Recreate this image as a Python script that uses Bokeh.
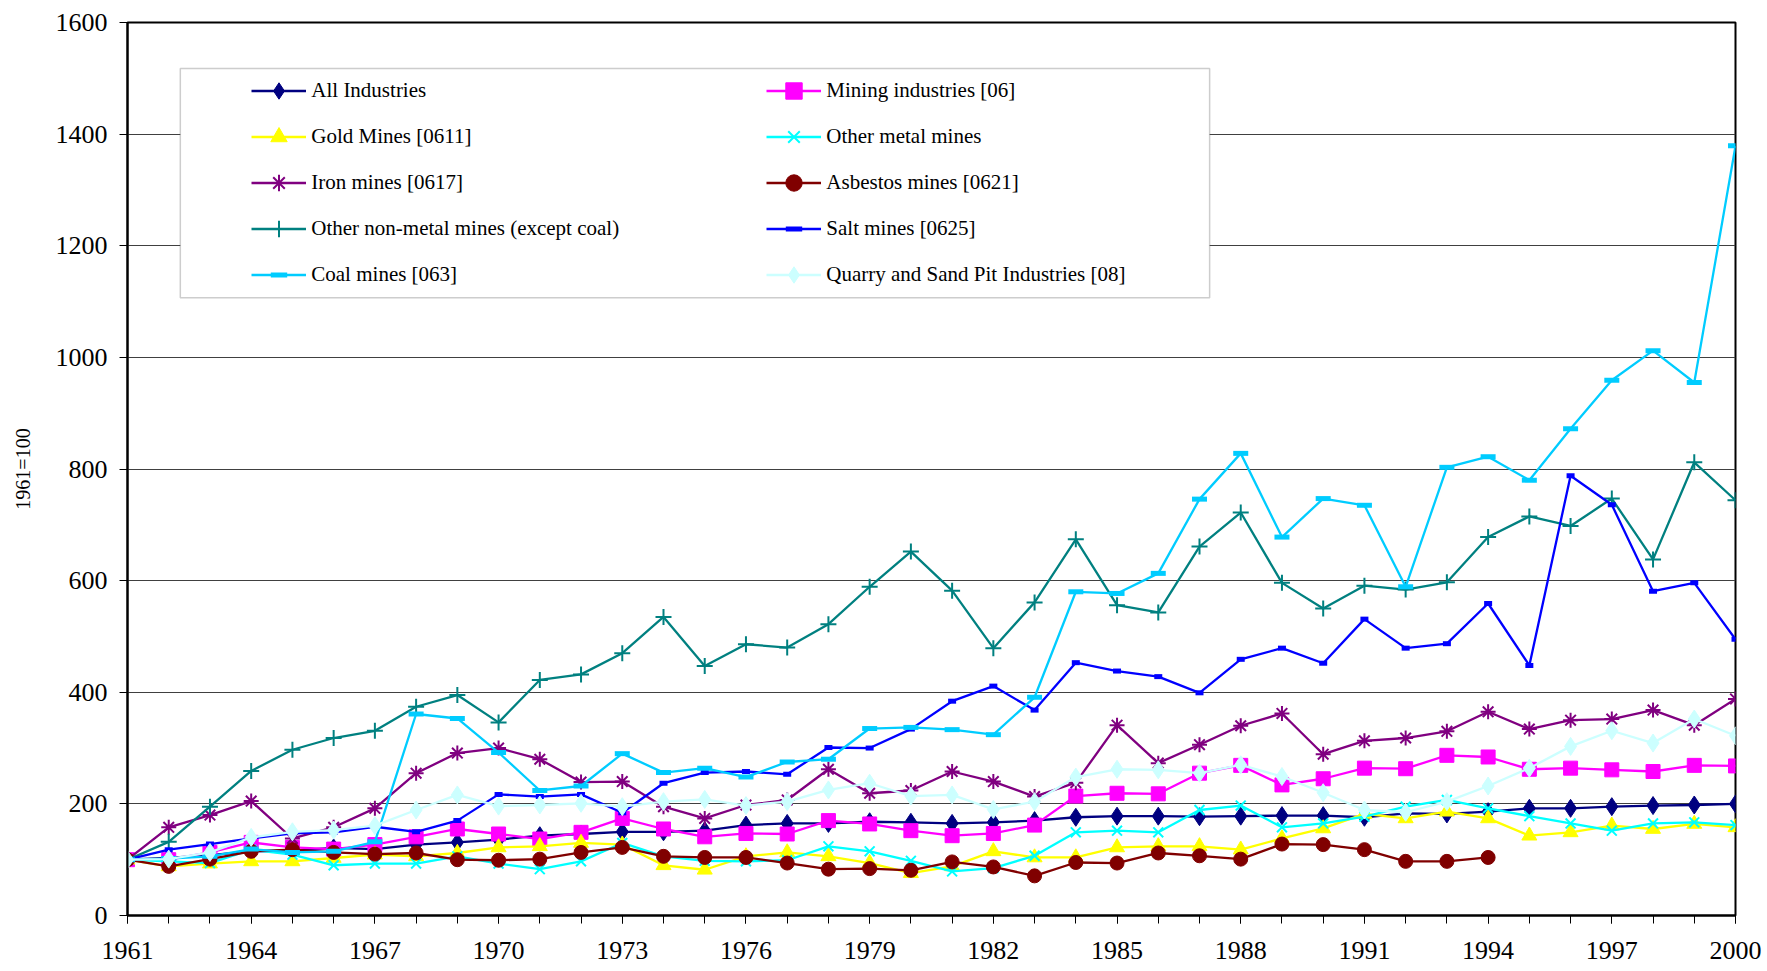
from bokeh.plotting import figure
from bokeh.models import FixedTicker, Legend, LegendItem, BoxAnnotation, Range1d, ColumnDataSource
from bokeh.embed import file_html
from bokeh.resources import INLINE

# ---------------- data ----------------
years = list(range(1961, 2001))
x_tick_years = list(range(1961, 2001, 3))
y_ticks = [0, 200, 400, 600, 800, 1000, 1200, 1400, 1600]

all_industries = [100, 103, 108, 115, 116, 121, 119, 127, 131, 136,
                  143, 146, 150, 150, 152, 162, 165, 165, 168, 167,
                  165, 167, 170, 176, 178, 178, 177, 178, 179, 179,
                  176, 183, 182, 186, 192, 192, 195, 197, 198, 200]
mining = [100, 100, 113, 131, 122, 119, 127, 141, 155, 146,
          137, 149, 174, 155, 141, 147, 146, 170, 164, 152,
          143, 147, 162, 214, 219, 218, 255, 269, 234, 245,
          264, 263, 287, 284, 262, 264, 261, 258, 269, 268]
gold = [100, 88, 93, 97, 97, 103, 109, 106, 112, 122,
        124, 130, 127, 90, 82, 106, 113, 106, 94, 76,
        88, 115, 104, 104, 122, 124, 124, 118, 138, 156,
        182, 174, 186, 174, 143, 149, 161, 155, 164, 158]
other_metal = [100, 97, 94, 118, 109, 90, 93, 93, 106, 93,
               83, 97, 130, 106, 98, 97, 99, 124, 115, 98,
               79, 85, 107, 149, 152, 149, 189, 197, 158, 165,
               177, 195, 207, 192, 178, 165, 152, 165, 167, 162]
iron = [100, 158, 180, 205, 138, 158, 192, 255, 291, 300,
        280, 239, 240, 195, 174, 198, 207, 262, 219, 224,
        258, 240, 213, 238, 341, 273, 306, 340, 362, 289,
        313, 318, 330, 365, 334, 350, 352, 368, 341, 388]
asbestos_years = list(range(1961, 1995))
asbestos = [100, 88, 101, 115, 118, 113, 110, 112, 100, 99,
            101, 113, 122, 106, 104, 104, 94, 83, 84, 81,
            96, 87, 71, 95, 94, 112, 107, 101, 128, 127,
            118, 97, 97, 104]
non_metal = [100, 132, 195, 259, 297, 318, 331, 374, 395, 346,
             422, 432, 470, 535, 447, 486, 480, 522, 589, 652,
             582, 479, 561, 674, 556, 543, 661, 722, 596, 550,
             591, 584, 597, 678, 715, 698, 747, 638, 812, 744]
salt = [100, 118, 128, 138, 147, 149, 159, 150, 170, 217,
        213, 217, 184, 237, 256, 258, 253, 301, 300, 334,
        384, 411, 368, 453, 438, 428, 399, 459, 479, 452,
        531, 479, 487, 559, 448, 788, 736, 581, 596, 495]
coal = [100, 102, 106, 119, 113, 115, 132, 361, 353, 292,
        224, 232, 290, 256, 264, 248, 275, 280, 335, 337,
        333, 324, 391, 580, 577, 613, 746, 828, 678, 747,
        735, 589, 803, 822, 780, 872, 959, 1012, 955, 1379]
quarry = [100, 101, 113, 140, 150, 153, 161, 189, 216, 196,
          198, 201, 195, 204, 208, 197, 204, 225, 237, 214,
          216, 190, 204, 248, 262, 261, 255, 270, 249, 220,
          189, 185, 204, 232, 264, 303, 331, 309, 352, 322]

labels = ["All Industries", "Mining industries [06]", "Gold Mines [0611]",
          "Other metal mines", "Iron mines [0617]", "Asbestos mines [0621]",
          "Other non-metal mines (except coal)", "Salt mines [0625]",
          "Coal mines [063]", "Quarry and Sand Pit Industries [08]"]

# ---------------- styles ----------------
FONT = "Liberation Serif"
styles = [
    # (x, y, color, marker, size, marker line width)
    (years, all_industries, "#000080", "diamond", 18, 1),
    (years, mining, "#FF00FF", "square", 14, 1),
    (years, gold, "#FFFF00", "triangle", 15, 1),
    (years, other_metal, "#00FFFF", "x", 14, 2),
    (years, iron, "#800080", "asterisk", 15, 2),
    (asbestos_years, asbestos, "#800000", "circle", 14, 1),
    (years, non_metal, "#008080", "cross", 16, 2),
    (years, salt, "#0000FF", "dash", 8, 5),
    (years, coal, "#00CCFF", "dash", 15, 5),
    (years, quarry, "#CCFFFF", "diamond", 18, 1),
]

W, H = 1767, 971
p = figure(width=W, height=H, output_backend="svg", toolbar_location=None,
           x_range=Range1d(1961, 2000), y_range=Range1d(0, 1600),
           min_border_left=127, min_border_right=32, min_border_top=22,
           min_border_bottom=56, background_fill_color="white",
           border_fill_color="white")

p.outline_line_color = "black"
p.outline_line_width = 2
p.xgrid.visible = False
p.ygrid.ticker = FixedTicker(ticks=y_ticks)
p.ygrid.grid_line_color = "#404040"
p.ygrid.grid_line_width = 1

# axes
p.xaxis.ticker = FixedTicker(ticks=x_tick_years, minor_ticks=years)
p.yaxis.ticker = FixedTicker(ticks=y_ticks)
for ax in (p.xaxis, p.yaxis):
    ax.axis_line_color = "black"
    ax.axis_line_width = 2
    ax.major_tick_line_color = "black"
    ax.major_tick_line_width = 1
    ax.major_tick_in = 0
    ax.major_tick_out = 8
    ax.major_label_text_font = FONT
    ax.major_label_text_font_size = "26px"
    ax.major_label_text_color = "black"
p.xaxis.minor_tick_line_color = "black"
p.xaxis.minor_tick_line_width = 1
p.xaxis.minor_tick_in = 0
p.xaxis.minor_tick_out = 8
p.xaxis.major_label_standoff = 18
p.yaxis.minor_tick_line_color = None
p.yaxis.major_label_standoff = 12
p.yaxis.axis_label = "1961=100"
p.yaxis.axis_label_text_font = FONT
p.yaxis.axis_label_text_font_size = "20px"
p.yaxis.axis_label_text_font_style = "normal"
p.yaxis.axis_label_text_color = "black"
p.yaxis.axis_label_standoff = 19

# legend frame (white box behind legend), layout constants in pixels -> data
FX0, FX1 = 126.7, 1734.5   # frame left/right in canvas px
FY0, FY1 = 22.3, 915.7     # frame top/bottom in canvas px
def px_to_x(px):
    return 1961 + (px - FX0) / (FX1 - FX0) * (2000 - 1961)
def py_to_y(py):
    return (FY1 - py) / (FY1 - FY0) * 1600
box = BoxAnnotation(left=px_to_x(179.5), right=px_to_x(1208.7),
                    top=py_to_y(68.3), bottom=py_to_y(297.7),
                    fill_color="white", fill_alpha=1.0,
                    line_color="#5a5a5a", line_width=1.5)
p.add_layout(box)

renderers = {}
for lab, (xs, ys, color, marker, size, mlw) in zip(labels, styles):
    src = ColumnDataSource(data=dict(x=xs, y=ys))
    ln = p.line("x", "y", source=src, line_color=color, line_width=2.3)
    sc = p.scatter("x", "y", source=src, marker=marker, size=size,
                   fill_color=color, line_color=color, line_width=mlw)
    renderers[lab] = [ln, sc]

order = [0, 2, 4, 6, 8, 1, 3, 5, 7, 9]
items = [LegendItem(label=labels[i], renderers=renderers[labels[i]]) for i in order]
legend = Legend(items=items, location=(124.3, 620.5), orientation="vertical",
                ncols=2, padding=0, margin=0, spacing=5,
                glyph_width=55, glyph_height=41, label_height=41,
                label_width=450, label_standoff=5,
                label_text_font=FONT, label_text_font_size="21px",
                label_text_color="black",
                border_line_alpha=0, background_fill_alpha=0)
p.add_layout(legend)

open("out.html", "w").write(file_html(p, INLINE))
